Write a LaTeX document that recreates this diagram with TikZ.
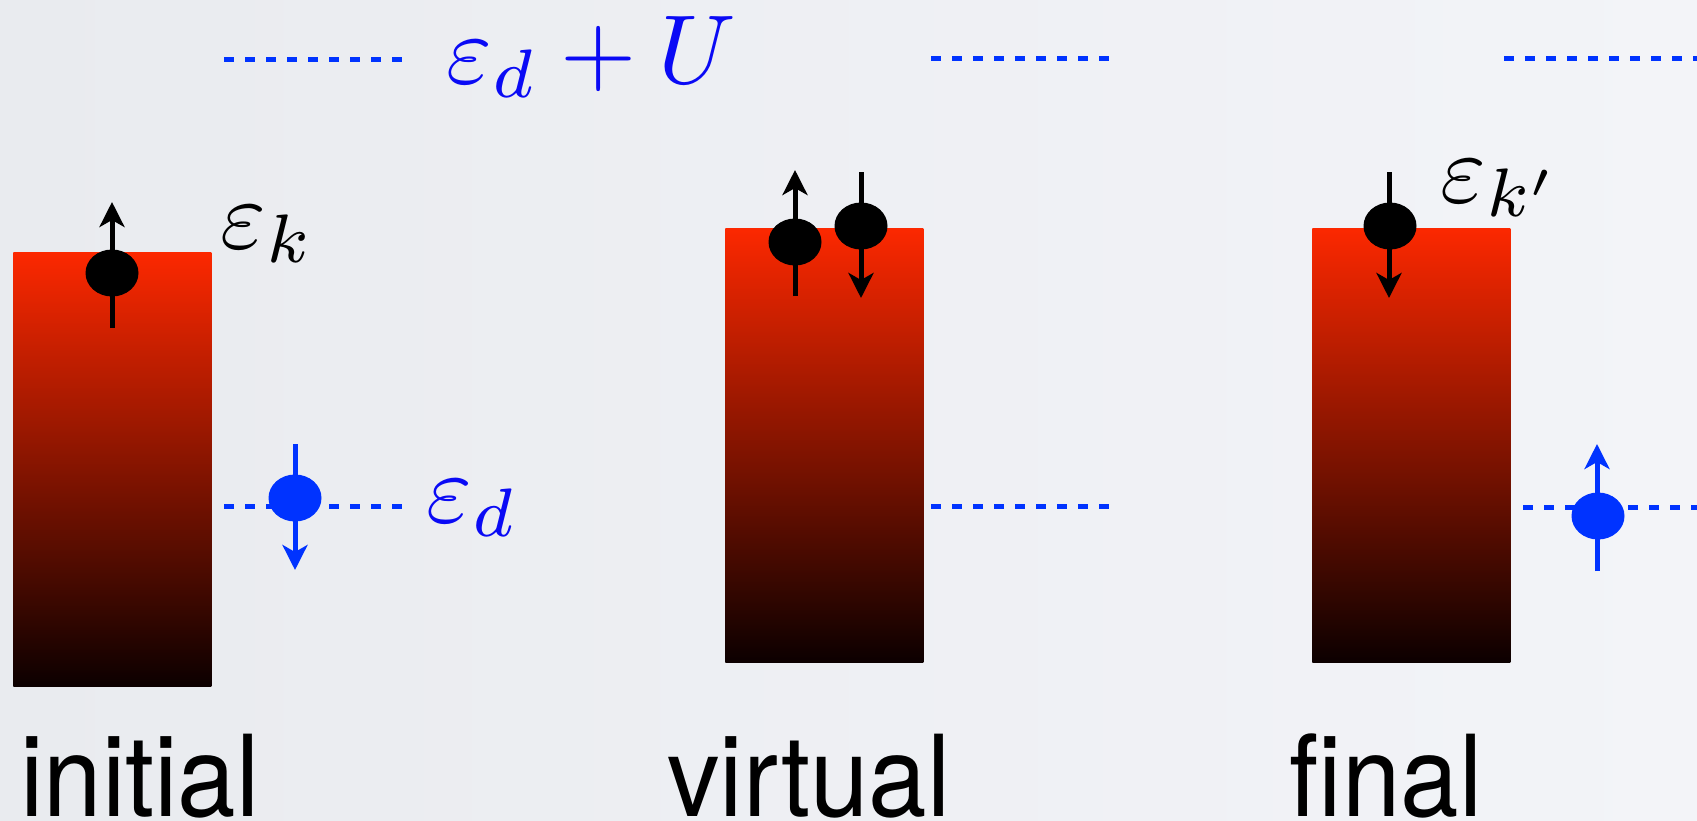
\documentclass[tikz,border=0pt]{standalone}
\usepackage{fontspec}
\newfontfamily\labfont{TeX Gyre Heros}[FakeStretch=0.93]
\usetikzlibrary{shapes.geometric,arrows.meta}
\definecolor{bgl}{RGB}{233,235,239}
\definecolor{bgr}{RGB}{243,244,248}
\definecolor{bandtop}{RGB}{252,40,0}
\definecolor{bandbot}{RGB}{12,0,0}
\definecolor{lvl}{RGB}{0,51,255}
\definecolor{mblue}{RGB}{10,10,245}
\begin{document}
\begin{tikzpicture}[x=0.5pt,y=0.5pt,
  bandbox/.style={rectangle, inner sep=0pt, minimum width=99pt, minimum height=217pt,
    anchor=north west, top color=bandtop, bottom color=bandbot, draw=none},
  electron/.style={ellipse, inner sep=0pt, minimum width=26.5pt, minimum height=23.5pt, fill=black},
  delectron/.style={electron, fill=lvl},
  spin/.style={line width=2.5pt, -{Stealth[length=12.5pt,width=12.5pt,inset=3.5pt]}},
  dspin/.style={spin, lvl},
  level/.style={lvl, line width=2.5pt, dash pattern=on 5pt off 5.5pt},
  stlabel/.style={anchor=base, inner sep=0pt, font=\fontsize{56.5}{60}\selectfont\labfont},
  mlabel/.style={anchor=base west, inner sep=0pt, font=\fontsize{10}{12}\selectfont, scale=4.9, transform shape}]
\useasboundingbox (0,0) rectangle (1697,-820);
\shade[left color=bgl, right color=bgr] (0,0) rectangle (1697,-820);

% bands
\node[bandbox] (band1) at (13,-252) {};
\node[bandbox] (band2) at (725,-228) {};
\node[bandbox] (band3) at (1312,-228) {};

% levels
\coordinate (u1a) at (224,-59);  \coordinate (u1b) at (405,-59);
\coordinate (u2a) at (931,-58);  \coordinate (u2b) at (1114,-58);
\coordinate (u3a) at (1504,-58); \coordinate (u3b) at (1697,-58);
\coordinate (d1a) at (224,-506); \coordinate (d1b) at (405,-506);
\coordinate (d2a) at (931,-506); \coordinate (d2b) at (1114,-506);
\coordinate (d3a) at (1523,-507); \coordinate (d3b) at (1697,-507);
\draw[level] (u1a) -- (u1b);
\draw[level] (u2a) -- (u2b);
\draw[level] (u3a) -- (u3b);
\draw[level] (d1a) -- (d1b);
\draw[level] (d2a) -- (d2b);
\draw[level] (d3a) -- (d3b);

% spin arrows
\coordinate (s1b) at (112,-328);  \coordinate (s1t) at (112,-202);
\coordinate (s2b) at (795,-296);  \coordinate (s2t) at (795,-170);
\coordinate (s3t) at (861,-172);  \coordinate (s3b) at (861,-298);
\coordinate (s4t) at (1389,-172); \coordinate (s4b) at (1389,-298);
\coordinate (s5t) at (295,-444);  \coordinate (s5b) at (295,-570);
\coordinate (s6b) at (1597,-571); \coordinate (s6t) at (1597,-444);
\draw[spin] (s1b) -- (s1t);
\draw[spin] (s2b) -- (s2t);
\draw[spin] (s3t) -- (s3b);
\draw[spin] (s4t) -- (s4b);
\draw[dspin] (s5t) -- (s5b);
\draw[dspin] (s6b) -- (s6t);

% electrons
\node[electron] (e1) at (112,-273) {};
\node[electron] (e2) at (795,-242) {};
\node[electron] (e3) at (861,-226) {};
\node[electron] (e4) at (1390,-226) {};
\node[delectron] (e5) at (295,-498) {};
\node[delectron] (e6) at (1598,-516) {};

% math labels
\node[mlabel, text=mblue] (lU) at (445,-83) {$\varepsilon_d+U$};
\node[mlabel] (lk) at (219,-248) {$\varepsilon_k$};
\node[mlabel] (lkp) at (1439,-202) {$\varepsilon_{k'}$};
\node[mlabel, text=mblue] (ld) at (425,-522) {$\varepsilon_d$};

% state labels
\node[stlabel] (tini) at (140,-816) {initial};
\node[stlabel] (tvir) at (809,-816) {virtual};
\node[stlabel] (tfin) at (1386,-816) {final};
\end{tikzpicture}
\end{document}
